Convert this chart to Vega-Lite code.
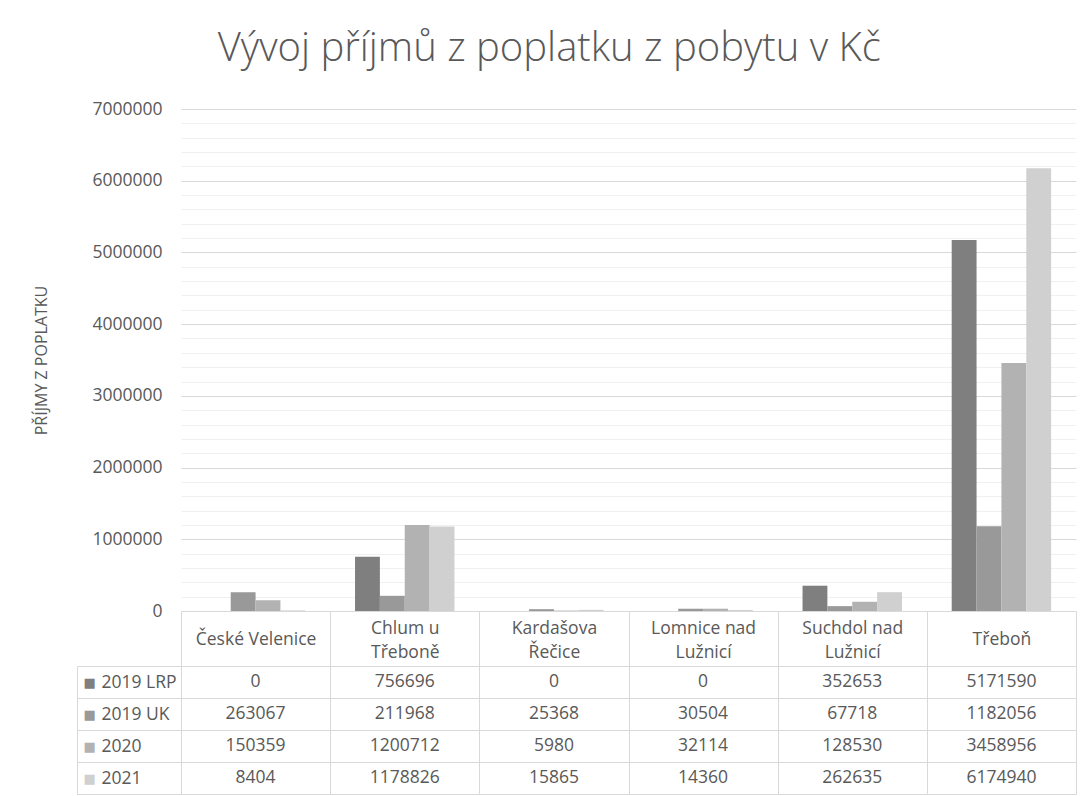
{
  "$schema": "https://vega.github.io/schema/vega-lite/v6.json",
  "autosize": "pad",
  "padding": {"left": 33, "top": 29, "right": 10, "bottom": 3},
  "background": "white",
  "bounds": "flush",
  "spacing": 55,
  "config": {"font": "Open Sans", "view": {"stroke": null}},
  "title": {
    "text": "Vývoj příjmů z poplatku z pobytu v Kč",
    "fontSize": 40,
    "fontWeight": 300,
    "font": "Open Sans",
    "color": "#595959",
    "anchor": "middle",
    "frame": "bounds",
    "offset": 31,
    "dx": -6
  },
  "datasets": {
    "prijmy": [
      {"obec": "České Velenice", "serie": "2019 LRP", "hodnota": 0},
      {"obec": "České Velenice", "serie": "2019 UK", "hodnota": 263067},
      {"obec": "České Velenice", "serie": "2020", "hodnota": 150359},
      {"obec": "České Velenice", "serie": "2021", "hodnota": 8404},
      {"obec": "Chlum u Třeboně", "serie": "2019 LRP", "hodnota": 756696},
      {"obec": "Chlum u Třeboně", "serie": "2019 UK", "hodnota": 211968},
      {"obec": "Chlum u Třeboně", "serie": "2020", "hodnota": 1200712},
      {"obec": "Chlum u Třeboně", "serie": "2021", "hodnota": 1178826},
      {"obec": "Kardašova Řečice", "serie": "2019 LRP", "hodnota": 0},
      {"obec": "Kardašova Řečice", "serie": "2019 UK", "hodnota": 25368},
      {"obec": "Kardašova Řečice", "serie": "2020", "hodnota": 5980},
      {"obec": "Kardašova Řečice", "serie": "2021", "hodnota": 15865},
      {"obec": "Lomnice nad Lužnicí", "serie": "2019 LRP", "hodnota": 0},
      {"obec": "Lomnice nad Lužnicí", "serie": "2019 UK", "hodnota": 30504},
      {"obec": "Lomnice nad Lužnicí", "serie": "2020", "hodnota": 32114},
      {"obec": "Lomnice nad Lužnicí", "serie": "2021", "hodnota": 14360},
      {"obec": "Suchdol nad Lužnicí", "serie": "2019 LRP", "hodnota": 352653},
      {"obec": "Suchdol nad Lužnicí", "serie": "2019 UK", "hodnota": 67718},
      {"obec": "Suchdol nad Lužnicí", "serie": "2020", "hodnota": 128530},
      {"obec": "Suchdol nad Lužnicí", "serie": "2021", "hodnota": 262635},
      {"obec": "Třeboň", "serie": "2019 LRP", "hodnota": 5171590},
      {"obec": "Třeboň", "serie": "2019 UK", "hodnota": 1182056},
      {"obec": "Třeboň", "serie": "2020", "hodnota": 3458956},
      {"obec": "Třeboň", "serie": "2021", "hodnota": 6174940}
    ]
  },
  "vconcat": [
    {
      "width": 895,
      "height": 502,
      "data": {"name": "prijmy"},
      "mark": {"type": "bar"},
      "encoding": {
        "x": {
          "field": "obec",
          "type": "nominal",
          "sort": ["České Velenice", "Chlum u Třeboně", "Kardašova Řečice", "Lomnice nad Lužnicí", "Suchdol nad Lužnicí", "Třeboň"],
          "scale": {"paddingInner": 0, "paddingOuter": 0},
          "axis": {
            "title": null,
            "labelAngle": 0,
            "labelExpr": "datum.value === 'Chlum u Třeboně' ? ['Chlum u', 'Třeboně'] : datum.value === 'Kardašova Řečice' ? ['Kardašova', 'Řečice'] : datum.value === 'Lomnice nad Lužnicí' ? ['Lomnice nad', 'Lužnicí'] : datum.value === 'Suchdol nad Lužnicí' ? ['Suchdol nad', 'Lužnicí'] : datum.value",
            "labelFontSize": 17.5,
            "labelColor": "#595959",
            "labelBaseline": "middle",
            "labelLineHeight": 24,
            "labelPadding": {"condition": {"test": "datum.value === 'České Velenice' || datum.value === 'Třeboň'", "value": -27}, "value": -38},
            "labelLimit": 300,
            "labelOverlap": false,
            "tickBand": "extent",
            "ticks": true,
            "tickSize": 55,
            "tickColor": "#d9d9d9",
            "domain": true,
            "domainColor": "#d9d9d9"
          }
        },
        "xOffset": {
          "field": "serie",
          "sort": ["2019 LRP", "2019 UK", "2020", "2021"],
          "scale": {"paddingInner": 0, "paddingOuter": 1.03}
        },
        "y": {
          "field": "hodnota",
          "type": "quantitative",
          "scale": {"domain": [0, 7000000], "nice": false},
          "axis": {
            "title": "PŘÍJMY Z POPLATKU",
            "titleFontSize": 16,
            "titleFontWeight": "normal",
            "titleColor": "#595959",
            "titlePadding": 42,
            "values": [0, 200000, 400000, 600000, 800000, 1000000, 1200000, 1400000, 1600000, 1800000, 2000000, 2200000, 2400000, 2600000, 2800000, 3000000, 3200000, 3400000, 3600000, 3800000, 4000000, 4200000, 4400000, 4600000, 4800000, 5000000, 5200000, 5400000, 5600000, 5800000, 6000000, 6200000, 6400000, 6600000, 6800000, 7000000],
            "format": "d",
            "labelExpr": "datum.value % 1000000 === 0 ? datum.label : ''",
            "labelOverlap": false,
            "labelFontSize": 17.5,
            "labelColor": "#595959",
            "labelPadding": 19,
            "ticks": false,
            "domain": false,
            "grid": true,
            "gridColor": {"condition": {"test": "datum.value % 1000000 === 0", "value": "#d9d9d9"}, "value": "#f0f0f0"}
          }
        },
        "color": {
          "field": "serie",
          "type": "nominal",
          "scale": {"domain": ["2019 LRP", "2019 UK", "2020", "2021"], "range": ["#7f7f7f", "#999999", "#b2b2b2", "#d0d0d0"]},
          "legend": null
        }
      }
    },
    {
      "width": 895,
      "height": 128,
      "layer": [
        {
          "data": {"name": "prijmy"},
          "mark": {"type": "text", "fontSize": 17.5, "color": "#595959", "baseline": "middle"},
          "encoding": {
            "x": {
              "field": "obec",
              "type": "nominal",
              "sort": ["České Velenice", "Chlum u Třeboně", "Kardašova Řečice", "Lomnice nad Lužnicí", "Suchdol nad Lužnicí", "Třeboň"],
              "scale": {"paddingInner": 0, "paddingOuter": 0},
              "axis": {"orient": "top", "title": null, "labels": false, "ticks": false, "domain": false, "grid": true, "tickBand": "extent", "gridColor": "#d9d9d9"}
            },
            "y": {
              "field": "serie",
              "type": "nominal",
              "sort": ["2019 LRP", "2019 UK", "2020", "2021"],
              "scale": {"paddingInner": 0, "paddingOuter": 0},
              "axis": {
                "title": null,
                "orient": "left",
                "tickBand": "extent",
                "ticks": true,
                "tickSize": 104,
                "tickColor": "#d9d9d9",
                "grid": true,
                "gridColor": "#d9d9d9",
                "domain": false,
                "labelAlign": "left",
                "labelBaseline": "middle",
                "labelPadding": -24,
                "labelFontSize": 17.5,
                "labelColor": "#595959"
              }
            },
            "text": {"field": "hodnota", "type": "quantitative", "format": "d"}
          }
        },
        {
          "data": {"name": "prijmy"},
          "mark": {"type": "text", "text": ""},
          "encoding": {
            "y": {
              "field": "serie",
              "type": "nominal",
              "sort": ["2019 LRP", "2019 UK", "2020", "2021"],
              "scale": {"paddingInner": 0, "paddingOuter": 0},
              "axis": {
                "title": null,
                "orient": "left",
                "offset": 104,
                "ticks": false,
                "grid": false,
                "domain": true,
                "domainColor": "#d9d9d9",
                "labelExpr": "'■'",
                "labelFont": "DejaVu Sans",
                "labelFontSize": 13,
                "labelAlign": "left",
                "labelBaseline": "middle",
                "labelPadding": -6,
                "labelColor": {"condition": [{"test": "datum.value === '2019 LRP'", "value": "#7f7f7f"}, {"test": "datum.value === '2019 UK'", "value": "#999999"}, {"test": "datum.value === '2020'", "value": "#b2b2b2"}], "value": "#d0d0d0"}
              }
            }
          }
        }
      ],
      "resolve": {"scale": {"y": "independent"}}
    }
  ]
}
